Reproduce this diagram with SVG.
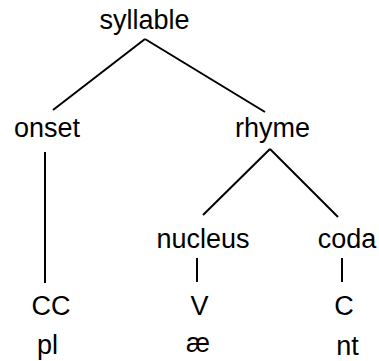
<svg xmlns="http://www.w3.org/2000/svg" width="379" height="361" viewBox="0 0 379 361">
  <style>
    text { font-family: "Liberation Sans", Arial, sans-serif; font-size: 27px; fill: #000; text-anchor: middle; }
    .edge { stroke: #000; stroke-width: 2; fill: none; stroke-linecap: butt; }
  </style>
  <rect width="379" height="361" fill="#fff"/>
  <g id="connectors">
    <line class="edge" x1="145" y1="39" x2="53" y2="110"/>
    <line class="edge" x1="145" y1="39" x2="265" y2="112"/>
    <line class="edge" x1="45" y1="152" x2="45" y2="283"/>
    <line class="edge" x1="270" y1="149" x2="203" y2="215"/>
    <line class="edge" x1="270" y1="149" x2="338" y2="217"/>
    <line class="edge" x1="197" y1="258" x2="197" y2="282"/>
    <line class="edge" x1="342" y1="258" x2="342" y2="282"/>
  </g>
  <g id="syllable"><text x="144.5" y="29">syllable</text></g>
  <g id="onset"><text x="47" y="137">onset</text></g>
  <g id="rhyme"><text x="272.5" y="137">rhyme</text></g>
  <g id="nucleus"><text x="203" y="248">nucleus</text></g>
  <g id="coda"><text x="347" y="248">coda</text></g>
  <g id="onset-cc"><text x="51" y="315">CC</text></g>
  <g id="nucleus-v"><text x="199.5" y="315">V</text></g>
  <g id="coda-c"><text x="344" y="315">C</text></g>
  <g id="onset-pl"><text x="47.5" y="354">pl</text></g>
  <g id="nucleus-ae"><text x="198" y="352">æ</text></g>
  <g id="coda-nt"><text x="347.5" y="355">nt</text></g>
</svg>
